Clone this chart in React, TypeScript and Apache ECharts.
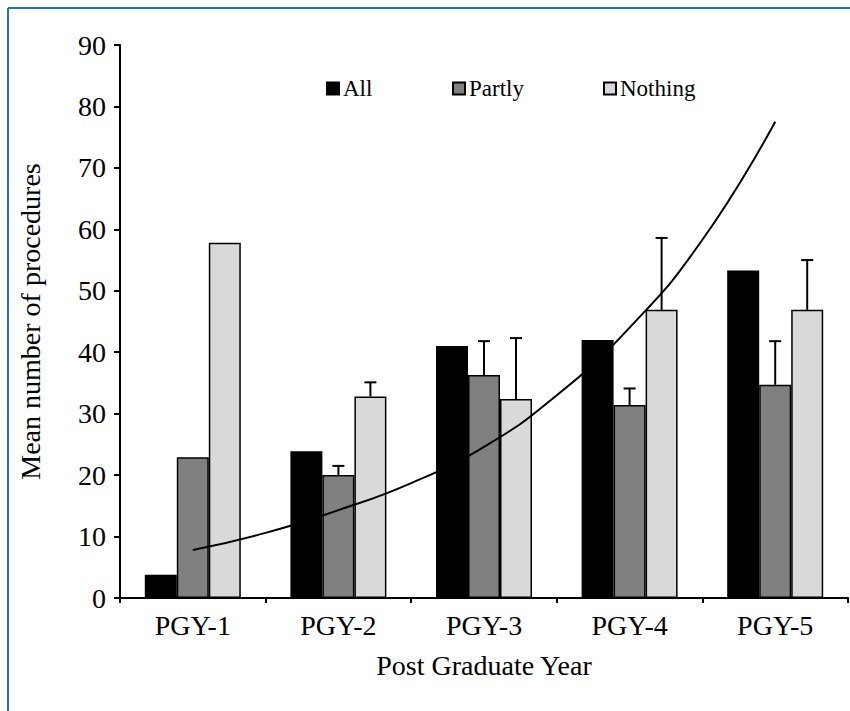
import React, { useEffect, useRef } from "react";
import * as echarts from "echarts";

const categories = ["PGY-1", "PGY-2", "PGY-3", "PGY-4", "PGY-5"];
const allValues = [3.8, 23.9, 41.0, 42.0, 53.3];
const partlyValues = [22.9, 20.0, 36.3, 31.4, 34.7];
const nothingValues = [57.8, 32.8, 32.4, 46.9, 46.9];
const partlyUpper = [null, 21.5, 41.8, 34.1, 41.8];
const nothingUpper = [null, 35.1, 42.3, 58.6, 55.0];
// trend curve points: [x position (category 1..5), value]
const trendPoints: [number, number][] = [
  [1, 7.8], [1.5, 10.6], [2, 14.3], [2.5, 18.7], [3, 24.6],
  [3.5, 33.0], [4, 44.0], [4.5, 58.3], [5, 77.5],
];
const yTicks = { min: 0, max: 90, interval: 10 };

const FONT = "'Liberation Serif', 'Times New Roman', serif";
const BAR_W = 32;

export default function App() {
  const ref = useRef<HTMLDivElement>(null);
  useEffect(() => {
    if (!ref.current) return;
    const chart = echarts.init(ref.current, undefined, { renderer: "svg" });

    const errData: number[][] = [];
    partlyValues.forEach((v, i) => {
      const u = partlyUpper[i];
      if (u != null) errData.push([i, u, v, 0]);
    });
    nothingValues.forEach((v, i) => {
      const u = nothingUpper[i];
      if (u != null) errData.push([i, u, v, 1]);
    });

    const barStyle = (color: string) => ({
      color,
      borderColor: "#000",
      borderWidth: 1.5,
    });

    const legendBase = {
      top: 77,
      padding: 0,
      icon: "rect",
      itemWidth: 12,
      itemHeight: 12,
      itemGap: 6,
      textStyle: { fontFamily: FONT, fontSize: 23, color: "#000", padding: [0, 0, 0, -1] },
      selectedMode: false,
    };

    chart.setOption({
      animation: false,
      backgroundColor: "#fff",
      textStyle: { fontFamily: FONT },
      grid: {
        left: 120,
        right: 2,
        top: 45,
        bottom: 113,
        containLabel: false,
        outerBoundsMode: "none",
      },
      legend: [
        { ...legendBase, left: 326, data: ["All"] },
        { ...legendBase, left: 452, data: ["Partly"] },
        { ...legendBase, left: 603, data: ["Nothing"] },
      ],
      xAxis: [
        {
          type: "category",
          data: categories,
          name: "Post Graduate Year",
          nameLocation: "middle",
          nameGap: 53,
          nameTextStyle: { fontFamily: FONT, fontSize: 28, color: "#000" },
          axisLine: { lineStyle: { color: "#000", width: 2 } },
          axisTick: { show: true, length: 5, lineStyle: { color: "#000", width: 2 } },
          axisLabel: { fontFamily: FONT, fontSize: 28, color: "#000", margin: 13 },
          splitLine: { show: false },
        },
        {
          type: "value",
          min: 0.5,
          max: 5.5,
          show: false,
          gridIndex: 0,
        },
      ],
      yAxis: {
        type: "value",
        min: yTicks.min,
        max: yTicks.max,
        interval: yTicks.interval,
        name: "Mean number of procedures",
        nameLocation: "middle",
        nameGap: 76,
        nameRotate: 90,
        nameTextStyle: { fontFamily: FONT, fontSize: 28, color: "#000" },
        axisLine: { show: true, lineStyle: { color: "#000", width: 2 } },
        axisTick: { show: true, length: 6, lineStyle: { color: "#000", width: 2 } },
        axisLabel: { fontFamily: FONT, fontSize: 28, color: "#000", margin: 14 },
        splitLine: { show: false },
      },
      series: [
        {
          name: "All",
          type: "bar",
          data: allValues,
          barWidth: BAR_W,
          barGap: "0%",
          itemStyle: barStyle("#000000"),
        },
        {
          name: "Partly",
          type: "bar",
          data: partlyValues,
          barWidth: BAR_W,
          barGap: "0%",
          itemStyle: barStyle("#808080"),
        },
        {
          name: "Nothing",
          type: "bar",
          data: nothingValues,
          barWidth: BAR_W,
          barGap: "0%",
          itemStyle: barStyle("#d9d9d9"),
        },
        {
          type: "custom",
          z: 4,
          encode: { x: 0, y: 1 },
          data: errData,
          renderItem: (params: any, api: any) => {
            const ci = api.value(0);
            const up = api.value(1);
            const lo = api.value(2);
            const which = api.value(3);
            const pu = api.coord([ci, up]);
            const pl = api.coord([ci, lo]);
            const x = pu[0] + (which === 0 ? 0 : BAR_W);
            const style = { stroke: "#000", lineWidth: 2 };
            return {
              type: "group",
              children: [
                { type: "line", shape: { x1: x, y1: pl[1], x2: x, y2: pu[1] }, style },
                { type: "line", shape: { x1: x - 6, y1: pu[1], x2: x + 6, y2: pu[1] }, style },
              ],
            };
          },
        },
        {
          type: "line",
          xAxisIndex: 1,
          data: trendPoints,
          smooth: true,
          showSymbol: false,
          symbol: "none",
          z: 5,
          lineStyle: { color: "#000", width: 2 },
        },
      ],
      graphic: [
        {
          type: "line",
          shape: { x1: 8, y1: 8, x2: 8, y2: 711 },
          style: { stroke: "#2474a6", lineWidth: 2 },
          silent: true,
        },
        {
          type: "line",
          shape: { x1: 8, y1: 8, x2: 850, y2: 8 },
          style: { stroke: "#2474a6", lineWidth: 2 },
          silent: true,
        },
      ],
    });
    return () => chart.dispose();
  }, []);
  return (
    <div
      ref={ref}
      style={{ position: "absolute", left: 0, top: 0, width: 850, height: 711 }}
    />
  );
}
